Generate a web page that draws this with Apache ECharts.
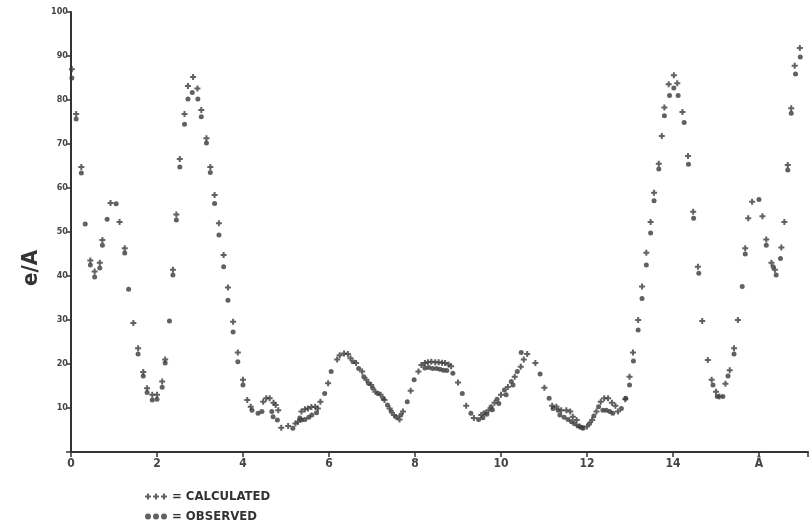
<!DOCTYPE html>
<html>
<head>
<meta charset="utf-8">
<script src="https://cdn.jsdelivr.net/npm/echarts@6/dist/echarts.min.js"></script>
<style>html,body{margin:0;padding:0;background:#fff;}#c{width:811px;height:528px;}</style>
</head>
<body>
<div id="c"></div>
<script>
// x ticks (Å) and y ticks (e/A)
const xTicks = [0, 2, 4, 6, 8, 10, 12, 14, 16];
const xTickLabels = ['0', '2', '4', '6', '8', '10', '12', '14', 'Å'];
const yTicks = [0, 10, 20, 30, 40, 50, 60, 70, 80, 90, 100];

const calculated = [
[0.02,87],[0.12,76.8],[0.24,64.8],[0.45,43.5],[0.55,41],[0.67,43],[0.73,48.2],[0.92,56.6],[1.13,52.3],[1.25,46.3],
[1.45,29.3],[1.56,23.6],[1.68,18.2],[1.77,14.5],[1.89,13],[2.0,13],[2.12,16],[2.19,21],[2.37,41.4],[2.45,54],
[2.53,66.6],[2.64,76.8],[2.72,83.2],[2.84,85.2],[2.94,82.6],[3.03,77.7],[3.15,71.3],[3.24,64.8],[3.34,58.4],[3.44,52],
[3.55,44.8],[3.65,37.4],[3.77,29.6],[3.88,22.6],[4.0,16.4],[4.1,11.8],[4.18,10.3],[4.47,11.4],[4.54,12.2],[4.62,12.2],
[4.71,11.2],[4.76,10.7],[4.82,9.5],[4.89,5.5],[5.05,5.9],[5.22,6.5],[5.28,6.9],[5.36,9.2],[5.44,9.7],[5.51,9.9],
[5.59,10.2],[5.68,10.3],[5.74,9.9],[5.8,11.4],[5.98,15.6],[6.19,21],[6.25,22],[6.35,22.4],[6.44,22.3],[6.5,21.3],
[6.63,20.2],[6.77,18.3],[6.87,16.4],[6.98,15.2],[7.08,13.7],[7.2,13],[7.29,11.8],[7.41,9.9],[7.51,8.4],[7.64,7.4],
[7.72,9.2],[7.9,13.9],[8.08,18.3],[8.15,19.8],[8.23,20.2],[8.3,20.4],[8.38,20.5],[8.47,20.4],[8.55,20.4],[8.63,20.3],
[8.7,20.2],[8.78,19.9],[8.84,19.5],[9.0,15.8],[9.19,10.5],[9.37,7.7],[9.54,8.4],[9.71,9.5],[9.85,11.2],[10.0,13],
[10.16,14.8],[10.32,17.1],[10.46,19.4],[10.53,21],[10.61,22.3],[10.8,20.2],[11.01,14.6],[11.19,10.5],[11.29,10.3],[11.4,9.5],
[11.52,9.5],[11.61,9.2],[11.67,8],[11.76,7.3],[11.83,5.8],[12.0,5.8],[12.12,7.3],[12.22,9.2],[12.32,11.4],[12.4,12.2],
[12.49,12.2],[12.58,11.2],[12.66,10.5],[12.72,9.2],[12.89,12],[12.99,17.1],[13.07,22.6],[13.19,30],[13.28,37.6],[13.38,45.3],
[13.48,52.3],[13.56,58.9],[13.67,65.5],[13.74,71.8],[13.8,78.3],[13.9,83.6],[14.02,85.6],[14.1,83.8],[14.22,77.3],[14.35,67.3],
[14.47,54.6],[14.58,42.1],[14.68,29.8],[14.81,20.9],[14.9,16.4],[15.0,13.7],[15.08,12.6],[15.22,15.5],[15.32,18.6],[15.42,23.6],
[15.51,30],[15.68,46.3],[15.75,53.1],[15.84,56.9],[16.08,53.6],[16.17,48.3],[16.29,43],[16.37,41.4],[16.52,46.5],[16.59,52.3],
[16.67,65.2],[16.75,78.1],[16.83,87.8],[16.95,91.8]
];

const observed = [
[0.02,85],[0.12,75.7],[0.24,63.4],[0.33,51.8],[0.45,42.5],[0.55,39.8],[0.67,41.8],[0.73,47],[0.84,52.9],[1.05,56.4],
[1.25,45.2],[1.34,37],[1.56,22.3],[1.68,17.3],[1.77,13.5],[1.89,11.8],[2.0,12],[2.12,14.7],[2.19,20.2],[2.29,29.8],
[2.37,40.2],[2.45,52.7],[2.53,64.8],[2.64,74.5],[2.72,80.2],[2.82,81.7],[2.95,80.2],[3.03,76.2],[3.15,70.2],[3.24,63.5],
[3.34,56.5],[3.44,49.3],[3.55,42.1],[3.65,34.5],[3.77,27.3],[3.88,20.5],[4.0,15.2],[4.21,9.5],[4.35,8.8],[4.44,9.2],
[4.67,9.2],[4.7,8],[4.8,7.3],[5.16,5.4],[5.32,7.7],[5.36,7.3],[5.44,7.4],[5.53,7.9],[5.6,8.4],[5.71,8.9],
[5.9,13.3],[6.05,18.3],[6.56,20.5],[6.69,19],[6.81,17.1],[6.92,15.6],[7.02,14.5],[7.14,13.3],[7.26,12.2],[7.36,10.7],
[7.45,9.2],[7.57,7.9],[7.67,8.4],[7.82,11.4],[7.98,16.4],[8.23,19.1],[8.32,19.2],[8.41,19],[8.5,19],[8.58,18.8],
[8.66,18.6],[8.74,18.5],[8.88,17.9],[9.1,13.3],[9.3,8.8],[9.48,7.4],[9.58,7.8],[9.62,8.9],[9.67,8.6],[9.77,10.3],
[9.8,9.6],[9.91,12],[9.95,11],[10.08,14.1],[10.12,13],[10.24,16],[10.28,15.2],[10.38,18.3],[10.47,22.6],[10.91,17.7],
[11.12,12.2],[11.21,9.9],[11.33,9.5],[11.37,8.4],[11.47,7.9],[11.56,7.4],[11.64,6.9],[11.71,6.4],[11.79,5.9],[11.88,5.6],
[11.91,5.4],[12.06,6.5],[12.16,8.2],[12.27,10.3],[12.37,9.5],[12.45,9.5],[12.53,9.2],[12.6,8.8],[12.8,9.9],[12.9,12.2],
[12.99,15.2],[13.08,20.7],[13.19,27.7],[13.28,34.9],[13.38,42.5],[13.48,49.8],[13.56,57.1],[13.67,64.3],[13.8,76.4],[13.92,81],
[14.02,82.7],[14.12,81],[14.26,74.9],[14.36,65.4],[14.48,53.1],[14.6,40.6],[14.93,15.2],[15.03,12.6],[15.16,12.6],[15.28,17.3],
[15.42,22.3],[15.61,37.6],[15.68,45],[16.0,57.4],[16.17,47],[16.33,42.1],[16.4,40.2],[16.5,44],[16.67,64.1],[16.75,77],
[16.85,85.9],[16.96,89.8]
];

const plusPath = 'path://M2,0h2v2h2v2h-2v2h-2v-2h-2v-2h2z';
const plus3 = 'path://M2,0h2v2h2v2h-2v2h-2v-2h-2v-2h2z M10,0h2v2h2v2h-2v2h-2v-2h-2v-2h2z M18,0h2v2h2v2h-2v2h-2v-2h-2v-2h2z';
const dot3 = 'path://M0,3a3,3 0 1,0 6,0a3,3 0 1,0 -6,0z M8,3a3,3 0 1,0 6,0a3,3 0 1,0 -6,0z M16,3a3,3 0 1,0 6,0a3,3 0 1,0 -6,0z';
const ink = '#3a3a3a';

const chart = echarts.init(document.getElementById('c'), null, {renderer: 'canvas'});
chart.setOption({
  backgroundColor: '#ffffff',
  animation: false,
  grid: {left: 71, top: 12, width: 737, height: 440},
  xAxis: {
    type: 'value', min: 0, max: 17.14, interval: 2,
    axisLine: {lineStyle: {color: '#333', width: 2}},
    axisTick: {show: true, length: 5, lineStyle: {color: '#333', width: 1.5}},
    splitLine: {show: false},
    axisLabel: {
      color: '#444', fontSize: 12, fontWeight: 'bold', fontFamily: 'DejaVu Sans Condensed', margin: 6,
      formatter: function (v) { const i = xTicks.indexOf(v); return i >= 0 ? xTickLabels[i] : ''; }
    }
  },
  yAxis: {
    type: 'value', min: 0, max: 100, interval: 10,
    axisLine: {show: true, lineStyle: {color: '#333', width: 2}},
    axisTick: {show: true, length: 5, lineStyle: {color: '#333', width: 1.5}},
    splitLine: {show: false},
    axisLabel: {
      color: '#444', fontSize: 9, fontWeight: 'bold', fontFamily: 'DejaVu Sans Condensed', margin: 3,
      formatter: function (v) { return (v === 0 || yTicks.indexOf(v) < 0) ? '' : String(v); }
    }
  },
  legend: {
    orient: 'vertical', left: 140, top: 485, itemGap: 7, itemWidth: 22, itemHeight: 6,
    textStyle: {color: '#333', fontSize: 13, fontWeight: 'bold', fontFamily: 'DejaVu Sans Condensed'},
    formatter: function (n) { return '= ' + n; },
    data: [{name: 'CALCULATED', icon: plus3}, {name: 'OBSERVED', icon: dot3}]
  },
  graphic: [{
    type: 'text', x: 31, y: 268, rotation: Math.PI / 2,
    style: {text: 'e/A', fill: '#333', font: 'bold 22px "DejaVu Sans Condensed"', align: 'center', verticalAlign: 'middle'}
  }],
  series: [
    {name: 'CALCULATED', type: 'scatter', data: calculated, symbol: plusPath, symbolSize: 6,
     itemStyle: {color: ink}},
    {name: 'OBSERVED', type: 'scatter', data: observed, symbol: 'circle', symbolSize: 5,
     itemStyle: {color: ink}}
  ]
});
</script>
</body>
</html>
